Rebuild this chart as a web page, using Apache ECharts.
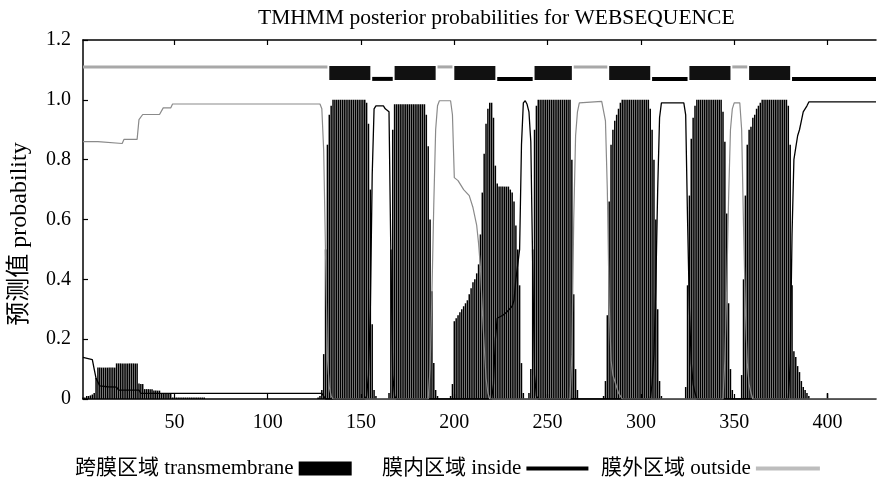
<!DOCTYPE html>
<html>
<head>
<meta charset="utf-8">
<script src="https://cdn.jsdelivr.net/npm/echarts@6/dist/echarts.min.js"></script>
<style>
html,body{margin:0;padding:0;background:#fff;}
#chart{width:877px;height:484px;}
</style>
</head>
<body>
<div id="chart"></div>
<script>
// ---------- data ----------
const titleText = 'TMHMM posterior probabilities for WEBSEQUENCE';
const yAxisName = '预测值 probability';
const seqLength = 426;
const xTickValues = [50, 100, 150, 200, 250, 300, 350, 400];
const yTickValues = [0, 0.2, 0.4, 0.6, 0.8, 1.0, 1.2];

const nameTM = '跨膜区域 transmembrane';
const nameIn = '膜内区域 inside';
const nameOut = '膜外区域 outside';

// transmembrane posterior probability per residue (impulses), in runs starting at given residue
const tm0Start = 1;
const tm0 = [0.005,0.005,0.01,0.01,0.012,0.015,0.02,0.07,
  0.105,0.105,0.105,0.105,0.105,0.105,0.105,0.105,0.105,0.105,
  0.119,0.119,0.119,0.119,0.119,0.119,0.119,0.119,0.119,0.119,0.119,0.119,
  0.052,0.05,0.05,0.033,0.033,0.033,0.033,0.033,0.028,0.028,0.028,0.028,
  0.02,0.02,0.02,0.02,0.02,0.02,
  0.005,0.005,0.005,0.005,0.005,0.005,0.005,0.005,0.005,0.005,0.005,0.005,0.005,0.005,0.005,0.005,0.005,0.005];
const tm1Start = 127;
const tm1 = [0.005,0.01,0.03,0.15,0.5,0.85,0.95,0.98,
  1,1,1,1,1,1,1,1,1,1,1,1,1,1,1,1,1,1,
  0.99,0.92,0.7,0.25,0.03,0.01];
const tm2Start = 165;
const tm2 = [0.02,0.5,0.9,
  0.985,0.985,0.985,0.985,0.985,0.985,0.985,0.985,0.985,0.985,0.985,0.985,0.985,0.985,0.985,0.985,0.985,
  0.95,0.845,0.6,0.36,0.12,0.03,0.01];
const tm3Start = 198;
const tm3 = [0.01,0.05,0.26,0.27,0.28,0.29,0.30,0.31,0.32,0.33,0.35,0.37,0.39,0.40,0.42,0.45,
  0.55,0.69,0.82,0.92,0.97,0.99,0.99,0.94,0.78,0.72,0.71,0.71,0.71,0.71,0.71,0.71,0.70,0.69,
  0.66,0.58,0.5,0.38,0.12,0.02];
const tm4Start = 240;
const tm4 = [0.02,0.1,0.5,0.9,0.98,
  1,1,1,1,1,1,1,1,1,1,1,1,1,1,1,1,1,1,
  0.8,0.35,0.1,0.03];
const tm5Start = 280;
const tm5 = [0.01,0.06,0.28,0.66,0.85,0.9,0.93,0.95,0.97,0.99,
  1,1,1,1,1,1,1,1,1,1,1,1,1,1,1,
  0.97,0.9,0.8,0.6,0.3,0.06,0.01];
const tm6Start = 324;
const tm6 = [0.04,0.38,0.68,0.87,0.94,0.98,
  1,1,1,1,1,1,1,1,1,1,1,1,1,1,
  0.96,0.86,0.62,0.32,0.1,0.03];
const tm7Start = 354;
const tm7 = [0.08,0.4,0.68,0.85,0.9,0.91,0.94,0.95,0.97,0.98,0.99,
  1,1,1,1,1,1,1,1,1,1,1,1,1,1,
  0.98,0.85,0.38,0.16,0.14,0.11,0.09,0.06,0.04,0.03,0.02,0.01];
const tm8Start = 400;
const tm8 = [0.02];

// inside / outside probability curves [residue, probability]
const insideProb = [[1,0.139],[6,0.132],[7,0.1],[8,0.069],[10,0.044],[14,0.041],[19,0.04],[20,0.03],[31,0.03],[32,0.019],
  [129,0.019],[130,0.01],[131,0],[152,0],[153,0.01],[154,0.08],[155,0.3],[156,0.75],[157,0.97],[158,0.98],[162,0.98],
  [163,0.97],[165,0.96],[166,0.48],[167,0.08],[168,0.01],[169,0],[220,0],[221,0.05],[222,0.2],[223,0.27],[226,0.28],
  [228,0.29],[231,0.31],[232,0.33],[233,0.4],[234,0.45],[235,0.5],[236,0.85],[237,0.99],[238,0.997],[239,0.985],
  [240,0.96],[241,0.86],[242,0.45],[243,0.08],[244,0.01],[245,0],[305,0],[306,0.05],[307,0.15],[308,0.38],[309,0.7],
  [310,0.94],[311,0.99],[323,0.99],[324,0.95],[325,0.6],[326,0.3],[327,0.12],[328,0.05],[329,0.02],[330,0],[379,0],
  [380,0.12],[381,0.55],[382,0.8],[383,0.84],[384,0.88],[385,0.9],[386,0.93],[387,0.96],[388,0.97],[389,0.98],
  [390,0.993],[426,0.993]];
const outsideProb = [[1,0.86],[9,0.86],[10,0.854],[22,0.854],[23,0.868],[30,0.868],[31,0.934],[33,0.951],[42,0.951],
  [44,0.973],[48,0.973],[49,0.986],[128,0.986],[129,0.97],[130,0.83],[131,0.48],[132,0.14],[133,0.04],[134,0.01],
  [135,0],[186,0],[187,0.1],[188,0.35],[189,0.65],[190,0.9],[191,0.98],[192,0.997],[198,0.997],[199,0.95],[200,0.74],
  [202,0.73],[205,0.7],[208,0.68],[210,0.64],[212,0.58],[213,0.52],[214,0.44],[215,0.3],[216,0.18],[217,0.07],
  [218,0.02],[219,0],[262,0],[263,0.15],[264,0.6],[265,0.88],[266,0.96],[267,0.99],[268,0.995],[279,0.995],[280,0.99],
  [281,0.93],[282,0.7],[283,0.32],[284,0.13],[285,0.08],[286,0.06],[287,0.04],[288,0.02],[289,0.01],[290,0],[344,0],
  [345,0.13],[346,0.37],[347,0.67],[348,0.9],[349,0.97],[350,0.99],[353,0.99],[354,0.9],[355,0.58],[356,0.3],
  [357,0.12],[358,0.05],[359,0.02],[360,0],[426,0]];

// predicted topology segments [startResidue, endResidue]
const topoOutside = [[1,132],[191,199],[264,282],[349,357]];
const topoTM = [[133,155],[168,190],[200,222],[243,263],[283,305],[326,348],[358,380]];
const topoInside = [[156,167],[223,242],[306,325],[381,426]];
const topoLevelOutside = 1.11;
const topoLevelTM = 1.09;
const topoLevelInside = 1.07;

// ---------- build ----------
const tmRuns = [[tm0Start,tm0],[tm1Start,tm1],[tm2Start,tm2],[tm3Start,tm3],[tm4Start,tm4],
  [tm5Start,tm5],[tm6Start,tm6],[tm7Start,tm7],[tm8Start,tm8]];
const tmData = [];
tmRuns.forEach(([s, vals]) => vals.forEach((v, i) => tmData.push([s + i, v])));

const FONT = "'Liberation Serif', 'Noto Sans CJK SC', serif";

function topoSeries(segs, level, color, thickness) {
  return {
    type: 'custom',
    silent: true,
    z: 5,
    data: segs.map(s => [s[0], s[1], level]),
    renderItem: function (params, api) {
      const p0 = api.coord([api.value(0), api.value(2)]);
      const p1 = api.coord([api.value(1), api.value(2)]);
      return {
        type: 'rect',
        shape: { x: p0[0], y: p0[1] - thickness / 2, width: p1[0] - p0[0], height: thickness },
        style: { fill: color }
      };
    },
    encode: { x: [0, 1], y: 2 }
  };
}

const legendText = { fontFamily: FONT, fontSize: 21, color: '#000' };

const chart = echarts.init(document.getElementById('chart'), null, { renderer: 'canvas' });
chart.setOption({
  animation: false,
  backgroundColor: '#fff',
  title: {
    text: titleText,
    left: 253, top: 3,
    textStyle: { fontFamily: FONT, fontSize: 21.5, fontWeight: 'normal', color: '#000' }
  },
  graphic: [{
    type: 'text', x: 20, y: 234, rotation: Math.PI / 2,
    style: { text: yAxisName, font: "24px 'Liberation Serif', 'Noto Sans CJK SC', serif", fill: '#000',
      textAlign: 'center', textVerticalAlign: 'middle' }
  }],
  grid: { left: 83, right: 1, top: 40, bottom: 85 },
  legend: [
    { data: [{ name: nameTM }], left: 70, top: 453, align: 'right', icon: 'rect', itemWidth: 53, itemHeight: 14,
      itemGap: 6, textStyle: legendText, selectedMode: false },
    { data: [{ name: nameIn }], left: 377, top: 453, align: 'right', icon: 'rect', itemWidth: 62, itemHeight: 4,
      textStyle: legendText, selectedMode: false },
    { data: [{ name: nameOut, itemStyle: { color: '#bdbdbd' } }], left: 596, top: 453, align: 'right', icon: 'rect',
      itemWidth: 64, itemHeight: 4, textStyle: legendText, selectedMode: false }
  ],
  xAxis: [
    {
      type: 'value', min: 1, max: seqLength, position: 'bottom',
      axisLine: { show: true, onZero: false, lineStyle: { color: '#000', width: 1.5 } },
      axisTick: { show: true, inside: true, length: 5, customValues: xTickValues, lineStyle: { color: '#000', width: 1.2 } },
      axisLabel: { customValues: xTickValues, margin: 14, fontFamily: FONT, fontSize: 20, color: '#000' },
      splitLine: { show: false }
    },
    {
      type: 'value', min: 1, max: seqLength, position: 'top',
      axisLine: { show: true, onZero: false, lineStyle: { color: '#000', width: 1.5 } },
      axisTick: { show: true, inside: true, length: 5, customValues: xTickValues, lineStyle: { color: '#000', width: 1.2 } },
      axisLabel: { show: false },
      splitLine: { show: false }
    }
  ],
  yAxis: {
    type: 'value', min: 0, max: 1.2, interval: 0.2,
    axisLine: { show: true, lineStyle: { color: '#000', width: 1.5 } },
    axisTick: { show: true, inside: true, length: 5, lineStyle: { color: '#000', width: 1.2 } },
    axisLabel: {
      margin: 12, fontFamily: FONT, fontSize: 20, color: '#000',
      formatter: v => (v === 0 ? '0' : v.toFixed(1))
    },
    splitLine: { show: false }
  },
  series: [
    {
      name: nameTM, type: 'bar', data: tmData, barWidth: 1.5,
      itemStyle: { color: '#000' }, z: 2, large: false
    },
    {
      name: nameIn, type: 'line', data: insideProb, showSymbol: false, symbol: 'none',
      lineStyle: { color: '#000', width: 1.3 }, itemStyle: { color: '#000' }, z: 3
    },
    {
      name: nameOut, type: 'line', data: outsideProb, showSymbol: false, symbol: 'none',
      lineStyle: { color: '#8a8a8a', width: 1.2 }, itemStyle: { color: '#8a8a8a' }, z: 4
    },
    topoSeries(topoOutside, topoLevelOutside, '#a8a8a8', 3),
    topoSeries(topoInside, topoLevelInside, '#000', 4),
    topoSeries(topoTM, topoLevelTM, '#111', 14)
  ]
});
</script>
</body>
</html>
